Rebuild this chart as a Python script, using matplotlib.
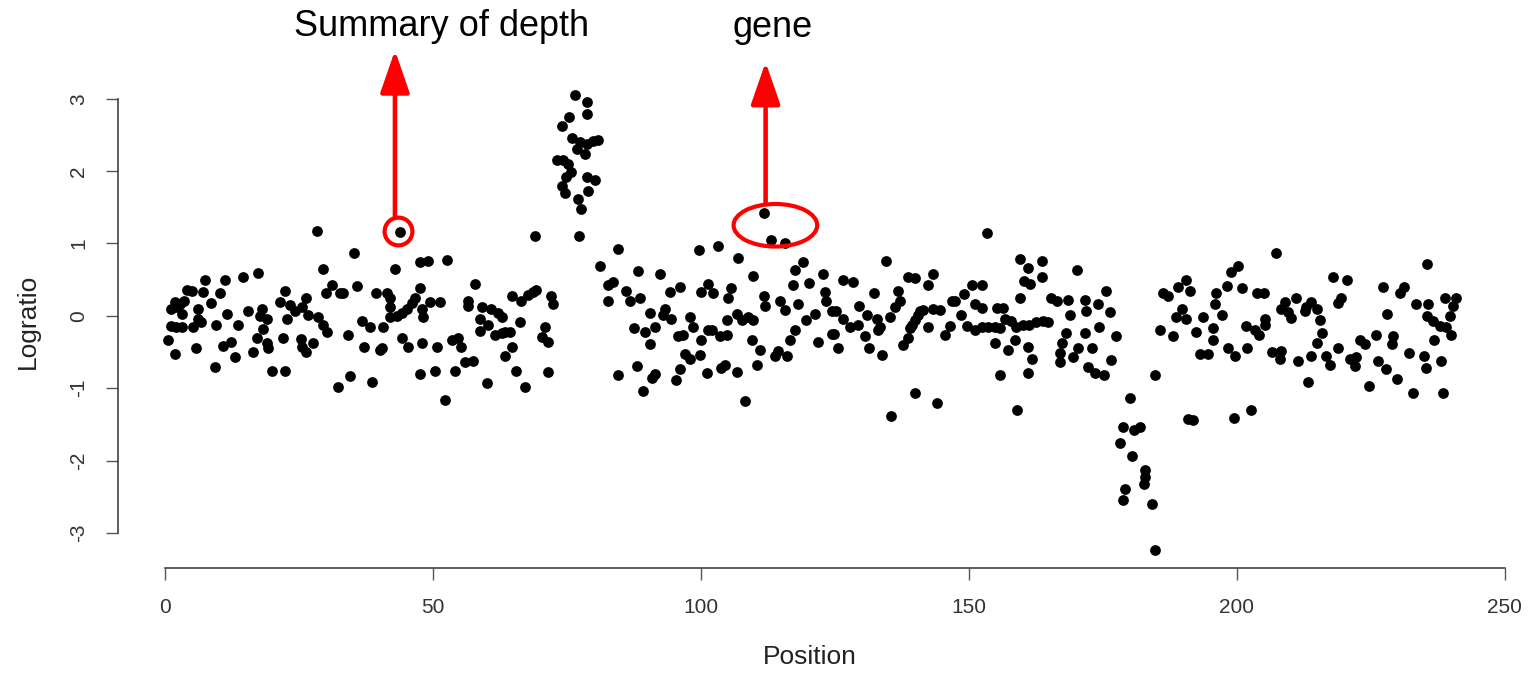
import matplotlib
matplotlib.use("Agg")
import matplotlib.pyplot as plt
from matplotlib.patches import Ellipse

# ---------------- data ----------------
position = [
    28.3, 35.3, 29.5, 17.4, 14.5, 11.2, 7.5, 4.1, 5.0, 7.1, 10.3, 1.9, 2.8, 1.2, 3.2, 6.2, 8.6, 11.6, 15.4, 13.7,
    9.6, 6.2, 1.2, 2.0, 3.1, 5.3, 0.6, 1.9, 5.7, 10.9, 12.3, 13.1, 9.3, 16.5, 17.1, 18.1, 17.8, 19.0, 18.3, 19.0,
    19.3, 19.9, 22.4, 22.4, 21.5, 23.3, 24.2, 26.4, 25.5, 22.7, 22.1, 25.3, 25.5, 26.4, 27.6, 26.7, 28.6, 29.5, 30.3, 30.1,
    31.2, 32.6, 33.2, 35.9, 39.3, 34.2, 36.8, 38.2, 37.1, 40.1, 34.5, 32.2, 38.7, 2.3, 3.5, 6.8,
    43.8, 42.9, 47.6, 49.1, 52.6, 47.6, 41.4, 41.9, 41.9, 46.6, 46.1, 49.4, 51.3, 45.1, 44.2, 43.3, 42.0, 47.9, 48.2, 40.7,
    40.4, 44.2, 45.4, 47.9, 50.7, 53.5, 54.7, 55.3, 56.0, 57.5, 47.6, 50.4, 54.1, 52.2, 57.8, 56.6, 56.6, 59.1, 58.8, 58.8,
    60.9, 62.1, 62.8, 60.3, 61.5, 62.8, 63.4, 64.3, 64.7, 66.5, 67.8, 68.7, 69.3, 66.2, 64.7, 63.4, 65.5, 67.2, 60.0, 72.1,
    72.4, 71.0, 70.3, 71.5, 71.5, 69.0, 77.3, 81.2,
    76.5, 78.7, 78.7, 75.4, 74.0, 76.0, 77.4, 78.7, 79.9, 80.8, 76.8, 78.4, 73.1, 74.3, 75.2, 75.8, 74.9, 78.7, 80.2, 74.0,
    74.6, 79.0, 77.1, 77.6,
    111.8, 113.1, 115.7, 84.5, 99.7, 103.2, 107.0, 119.1, 117.6, 88.3, 92.3, 109.8, 83.6, 82.7, 86.1, 86.7, 88.6, 82.7, 96.1, 94.2,
    101.4, 100.1, 102.3, 105.6, 105.0, 111.8, 112.0, 114.7, 115.7, 117.2, 120.1, 122.8, 118.2, 123.1, 90.5, 93.3, 93.0, 94.5, 87.6, 89.5,
    91.4, 90.5, 97.9, 98.6, 95.8, 96.7, 100.1, 101.4, 102.0, 103.5, 104.8, 104.8, 106.7, 107.6, 108.8, 109.8, 109.5, 111.0, 97.0, 97.9,
    99.8, 96.1, 95.3, 88.0, 84.6, 91.4, 90.8, 89.2, 101.1, 103.8, 104.5, 106.7, 110.4, 108.2, 113.8, 114.4, 116.0, 116.6, 117.6, 119.7,
    121.3, 121.9, 124.4, 123.4, 124.4,
    153.4, 134.6, 159.6, 161.1, 163.7, 160.3, 161.4, 163.7, 159.5, 143.3, 138.7, 139.9, 142.4, 126.6, 128.4, 132.3, 136.8, 137.1, 136.2, 150.5,
    152.4, 149.0, 147.4, 146.8, 151.1, 152.4, 125.3, 126.6, 127.8, 129.3, 129.5, 130.9, 132.8, 133.4, 133.1, 135.3, 124.8, 125.6, 130.6, 131.4,
    133.7, 140.9, 141.5, 140.6, 140.0, 139.4, 139.0, 143.3, 144.6, 142.4, 138.7, 137.8, 146.5, 145.6, 148.6, 149.6, 151.1, 152.4, 153.6, 154.8,
    155.8, 155.2, 156.4, 156.7, 157.9, 158.8, 160.1, 161.3, 162.6, 163.8, 164.8, 154.9, 158.6, 157.3, 161.1, 161.7, 161.1, 155.8, 139.9, 144.0,
    135.4, 158.9, 165.4,
    170.1, 166.4, 168.5, 171.6, 171.9, 174.1, 175.5, 176.3, 168.8, 168.2, 167.3, 167.0, 167.0, 171.6, 170.4, 172.9, 169.5, 174.3, 177.4, 176.6,
    172.3, 173.5, 175.2, 184.7,
    180.0, 178.8, 180.8, 181.9, 178.2, 180.5, 182.9, 182.9, 182.7, 179.1, 178.8, 184.1, 184.7,
    185.6, 188.1, 186.2, 187.2, 189.0, 190.6, 191.2, 189.7, 188.7, 190.6, 192.4, 193.7, 195.6, 195.6, 193.1, 194.7, 196.2, 195.9, 197.2, 198.1,
    198.9, 200.3, 200.9, 198.4, 199.6, 201.9, 201.8, 203.3, 204.2, 203.7, 205.1, 205.3, 205.3, 207.4, 206.5, 208.3, 208.3, 208.0, 190.9, 191.9,
    199.5, 202.6,
    235.5, 218.0, 220.6, 219.5, 218.9, 227.3, 231.2, 230.4, 228.1, 208.9, 211.1, 210.2, 212.7, 213.9, 214.9, 215.5, 215.8, 214.9, 211.4, 213.9,
    216.7, 217.3, 218.9, 213.3, 221.1, 222.3, 222.0, 223.0, 223.9, 225.9, 229.2, 228.9, 226.4, 227.9, 229.8, 224.7, 232.2, 234.9, 235.3, 232.9,
    238.5, 238.1, 236.8, 233.5, 235.6, 235.4, 236.6, 237.9, 239.1, 238.8, 240.9, 240.3, 239.7, 240.0, 209.5, 213.0,
]

logratio = [
    1.17, 0.87, 0.65, 0.59, 0.53, 0.49, 0.49, 0.36, 0.34, 0.33, 0.32, 0.19, 0.17, 0.10, 0.03, 0.10, 0.18, 0.03, 0.06, -0.12,
    -0.12, -0.04, -0.14, -0.16, -0.16, -0.16, -0.34, -0.53, -0.45, -0.41, -0.36, -0.57, -0.71, -0.50, -0.30, 0.10, 0.00, -0.04, -0.18, -0.38,
    -0.44, -0.76, -0.76, 0.34, 0.19, 0.15, 0.07, 0.24, 0.12, -0.04, -0.30, -0.32, -0.43, -0.50, -0.38, 0.01, -0.02, -0.12, -0.22, 0.32,
    0.43, 0.32, 0.32, 0.41, 0.32, -0.27, -0.07, -0.16, -0.43, -0.47, -0.83, -0.99, -0.91, 0.12, 0.20, -0.08,
    1.16, 0.65, 0.74, 0.76, 0.77, 0.39, 0.31, 0.24, 0.12, 0.24, 0.18, 0.19, 0.19, 0.10, 0.04, 0.00, -0.02, 0.10, -0.01, -0.15,
    -0.45, -0.31, -0.43, -0.37, -0.43, -0.34, -0.30, -0.43, -0.64, -0.62, -0.80, -0.76, -0.76, -1.16, 0.44, 0.20, 0.13, 0.12, -0.04, -0.21,
    0.09, 0.04, -0.01, -0.12, -0.26, -0.24, -0.22, -0.22, 0.27, 0.21, 0.29, 0.33, 0.36, -0.09, -0.43, -0.56, -0.76, -0.99, -0.93, 0.27,
    0.16, -0.15, -0.29, -0.36, -0.78, 1.10, 1.10, 0.69,
    3.05, 2.95, 2.79, 2.75, 2.62, 2.46, 2.40, 2.38, 2.42, 2.43, 2.31, 2.23, 2.15, 2.16, 2.10, 1.99, 1.92, 1.92, 1.88, 1.79,
    1.70, 1.73, 1.62, 1.48,
    1.42, 1.05, 1.01, 0.93, 0.91, 0.97, 0.80, 0.75, 0.63, 0.62, 0.58, 0.55, 0.47, 0.42, 0.34, 0.21, 0.24, 0.21, 0.40, 0.33,
    0.44, 0.33, 0.31, 0.39, 0.24, 0.27, 0.14, 0.21, 0.08, 0.43, 0.46, 0.58, 0.16, 0.33, 0.04, 0.09, 0.01, -0.05, -0.17, -0.22,
    -0.16, -0.39, -0.02, -0.15, -0.28, -0.27, -0.33, -0.19, -0.20, -0.28, -0.27, -0.06, 0.02, -0.06, -0.01, -0.06, -0.34, -0.47, -0.53, -0.60,
    -0.54, -0.73, -0.89, -0.70, -0.82, -0.80, -0.86, -1.04, -0.79, -0.72, -0.68, -0.78, -0.68, -1.18, -0.56, -0.48, -0.56, -0.33, -0.19, -0.06,
    0.02, -0.36, -0.25, 0.20, 0.07,
    1.14, 0.76, 0.79, 0.66, 0.76, 0.48, 0.44, 0.53, 0.24, 0.58, 0.53, 0.52, 0.43, 0.49, 0.47, 0.31, 0.34, 0.21, 0.12, 0.43,
    0.43, 0.30, 0.21, 0.21, 0.17, 0.11, 0.07, -0.05, -0.16, -0.12, 0.14, 0.01, -0.04, -0.16, -0.20, -0.02, -0.25, -0.44, -0.28, -0.44,
    -0.54, 0.07, 0.08, 0.01, -0.06, -0.12, -0.17, 0.09, 0.08, -0.15, -0.31, -0.40, -0.14, -0.27, 0.01, -0.14, -0.19, -0.15, -0.15, -0.15,
    -0.17, 0.11, 0.11, -0.04, -0.07, -0.15, -0.12, -0.12, -0.09, -0.07, -0.09, -0.38, -0.34, -0.47, -0.43, -0.59, -0.79, -0.82, -1.07, -1.20,
    -1.39, -1.30, 0.24,
    0.64, 0.20, 0.22, 0.22, 0.07, 0.16, 0.34, 0.05, 0.01, -0.24, -0.38, -0.52, -0.64, -0.24, -0.45, -0.45, -0.57, -0.15, -0.28, -0.61,
    -0.71, -0.79, -0.82, -0.82,
    -1.14, -1.53, -1.58, -1.53, -1.76, -1.94, -2.13, -2.23, -2.32, -2.39, -2.54, -2.60, -3.23,
    -0.19, -0.28, 0.32, 0.28, 0.40, 0.49, 0.34, 0.10, -0.01, -0.05, -0.22, -0.01, -0.17, -0.33, -0.53, -0.53, 0.32, 0.16, 0.01, 0.41,
    0.60, 0.69, 0.38, -0.45, -0.56, -0.45, -0.14, -0.19, -0.27, 0.32, 0.31, -0.05, -0.13, 0.87, -0.50, 0.10, -0.48, -0.59, -1.42, -1.44,
    -1.41, -1.30,
    0.72, 0.54, 0.49, 0.25, 0.18, 0.40, 0.40, 0.31, 0.03, 0.19, 0.25, -0.03, 0.07, 0.19, 0.10, -0.06, -0.24, -0.38, -0.62, -0.56,
    -0.55, -0.68, -0.44, -0.91, -0.59, -0.57, -0.70, -0.34, -0.39, -0.27, -0.28, -0.39, -0.62, -0.74, -0.87, -0.97, -0.51, -0.55, -0.72, -1.07,
    -1.06, -0.62, -0.34, 0.16, 0.16, 0.00, -0.07, -0.14, -0.16, 0.24, 0.24, 0.13, 0.00, -0.26, 0.05, 0.12,
]

x_ticks = [0, 50, 100, 150, 200, 250]
y_ticks = [-3, -2, -1, 0, 1, 2, 3]
x_label = "Position"
y_label = "Logratio"
annot_texts = ["Summary of depth", "gene"]

# ---------------- figure ----------------
W, H = 1536, 673
fig = plt.figure(figsize=(W / 100, H / 100), dpi=100)
plt.rcParams['font.family'] = ['Liberation Sans', 'DejaVu Sans']

ax_l, ax_r, ax_t, ax_b = 118, 1508, 77, 567.7
ax = fig.add_axes([ax_l / W, 1 - ax_b / H, (ax_r - ax_l) / W, (ax_b - ax_t) / H])
ax.set_xlim(-8.77, 250.6)
ax.set_ylim(-3.48, 3.30)

ax.scatter(position, logratio, s=60, c='black', linewidths=0, zorder=3)

axis_col = '#333333'
for side in ['top', 'right']:
    ax.spines[side].set_visible(False)
ax.spines['left'].set_bounds(-3, 3)
ax.spines['bottom'].set_bounds(0, 250)
for side in ['left', 'bottom']:
    ax.spines[side].set_color(axis_col)
    ax.spines[side].set_linewidth(1.1)

ax.set_xticks(x_ticks)
ax.set_yticks(y_ticks)
ax.set_xticklabels([str(v) for v in x_ticks])
ax.set_yticklabels([str(v) for v in y_ticks], rotation=90, va='center')
ax.tick_params(axis='both', length=8.6, width=1.0, color='#555555',
               labelsize=15, labelcolor='#333333')
ax.tick_params(axis='x', pad=13)
ax.tick_params(axis='y', pad=13)

fig.text(810 / W, 1 - 657 / H, x_label, ha='center', va='center', fontsize=19, color='#222222')
fig.text(28 / W, 1 - 321.5 / H, y_label, ha='center', va='center', rotation=90,
         fontsize=19, color='#222222')

# ---------------- annotations ----------------
def dx(px):
    return (px - 165) / 5.36


def dy(py):
    return (315.6 - py) / 72.4


red = '#ff0000'
arrow_props = dict(arrowstyle='-|>,head_length=2.6,head_width=0.9', mutation_scale=10,
                   lw=3.3, color=red, shrinkA=0, shrinkB=0)

# arrow 1 + circle
ax.annotate('', xy=(dx(395), dy(50)), xytext=(dx(395), dy(217)),
            arrowprops=arrow_props, annotation_clip=False)
ax.plot([dx(398.3)], [dy(230.7)], marker='o', markersize=20, markerfacecolor='none',
        markeredgecolor=red, markeredgewidth=3.0, clip_on=False, zorder=4)

# arrow 2 + ellipse
ax.annotate('', xy=(dx(765.7), dy(61.7)), xytext=(dx(765.7), dy(203)),
            arrowprops=arrow_props, annotation_clip=False)
ax.add_patch(Ellipse((dx(775.5), dy(225)), width=83.6 / 5.36, height=42.6 / 72.4,
                     fill=False, edgecolor=red, linewidth=3.0, clip_on=False, zorder=4))

fig.text(441.7 / W, 1 - 36 / H, annot_texts[0], ha='center', va='baseline', fontsize=26, color='black')
fig.text(772.5 / W, 1 - 37 / H, annot_texts[1], ha='center', va='baseline', fontsize=26, color='black')

fig.savefig('out.png', dpi=100)
